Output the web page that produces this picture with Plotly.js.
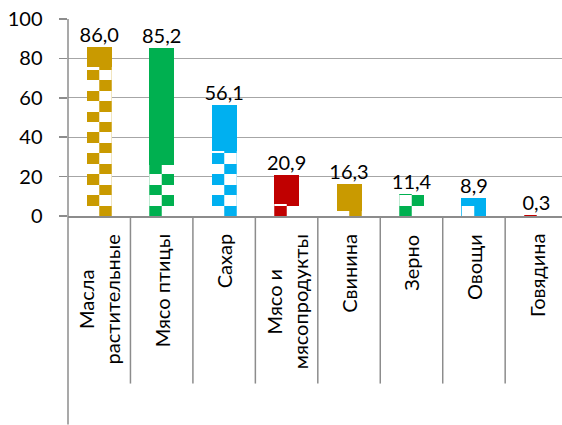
<!DOCTYPE html>
<html><head><meta charset="utf-8">
<script src="https://cdn.plot.ly/plotly-3.0.1.min.js"></script>
<style>html,body{margin:0;padding:0;overflow:hidden;background:#fff}</style>
</head><body><div id="chart" style="width:562px;height:425px"></div>
<script>
// ---- data ----
const categories = ['Масла<br>растительные', 'Мясо птицы', 'Сахар', 'Мясо и<br>мясопродукты', 'Свинина', 'Зерно', 'Овощи', 'Говядина'];
const totals = [86.0, 85.2, 56.1, 20.9, 16.3, 11.4, 8.9, 0.3];
const checkerPart = [75.4, 25.7, 33.0, 6.3, 2.5, 11.0, 4.9, 0.3];
const barColors = ['#C99A00', '#00B050', '#00B0F0', '#C00000', '#C99A00', '#00B050', '#00B0F0', '#C00000'];

// ---- build traces ----
const solidPart = totals.map((t, i) => +(t - checkerPart[i]).toFixed(2));
const rowH = 5.3;
const white = barColors.map(() => '#FFFFFF');
const nRows = Math.ceil(Math.max(...checkerPart) / rowH);
const traces = [];
for (let k = 0; k < nRows; k++) {
  const y = checkerPart.map(c => Math.max(0, Math.min(rowH, c - k * rowH)));
  const inv = k % 2 === 1;
  traces.push({
    type: 'bar', x: categories, y: y,
    marker: {
      color: '#FFFFFF', line: {width: 0},
      pattern: {shape: '|', size: 25, solidity: 0.5, fillmode: 'replace',
        fgcolor: inv ? white : barColors, bgcolor: inv ? barColors : white}
    },
    hoverinfo: 'skip', showlegend: false
  });
}
traces.push({
  type: 'bar', x: categories, y: solidPart,
  marker: {color: barColors, line: {width: 0}},
  hoverinfo: 'skip', showlegend: false
});
traces.push({
  type: 'scatter', mode: 'text', x: categories, y: totals,
  text: totals.map(v => v.toFixed(1).replace('.', ',')),
  textposition: 'top center', textfont: {size: 20, color: '#000'},
  cliponaxis: false, hoverinfo: 'skip', showlegend: false
});

const gray = '#8C8C8C';
const plotH = 425 - 19 - 209.3;
const shapes = [];
for (let k = 1; k <= categories.length; k++) {
  shapes.push({type: 'line', xref: 'x', yref: 'paper', x0: k - 0.5, x1: k - 0.5,
    y0: 0, y1: -(383 - 215.7) / plotH, line: {color: gray, width: 1.5}});
}
shapes.push({type: 'line', xref: 'paper', yref: 'paper', x0: 0, x1: 0,
  y0: 1, y1: -(424 - 215.7) / plotH, line: {color: gray, width: 1.5}});

const annotations = categories.map(c => ({
  x: c, xref: 'x', yref: 'paper', y: -0.082, yanchor: 'top', xanchor: 'center',
  text: c, textangle: -90, align: 'center', showarrow: false,
  font: {size: 20, color: '#000'}
}));

const layout = {
  width: 562, height: 425,
  margin: {l: 68, r: 0, t: 19, b: 209.3},
  paper_bgcolor: '#fff', plot_bgcolor: '#fff',
  font: {family: 'Lato, "Open Sans", sans-serif', size: 20, color: '#000'},
  barmode: 'stack', bargap: 0.6,
  showlegend: false,
  xaxis: {type: 'category', range: [-0.5, 7.41], showticklabels: false, ticks: '',
    showline: true, linecolor: gray, linewidth: 1.5, showgrid: false, zeroline: false, fixedrange: true},
  yaxis: {range: [0, 100], dtick: 20, tick0: 0, showgrid: true, gridcolor: '#A6A6A6', gridwidth: 1,
    ticks: 'outside', ticklen: 8, tickcolor: gray, tickwidth: 1.5, ticksuffix: '\u2002\u2009',
    showline: false, zeroline: false, tickfont: {size: 20}, fixedrange: true},
  shapes: shapes,
  annotations: annotations
};
Plotly.newPlot('chart', traces, layout, {displayModeBar: false, staticPlot: true});
</script>
</body></html>
